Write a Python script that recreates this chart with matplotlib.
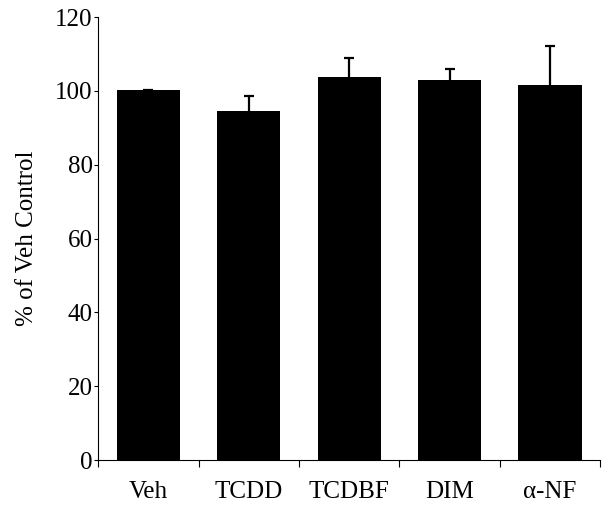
import matplotlib.pyplot as plt
import numpy as np

# ===== Data =====
groups = ["Veh", "TCDD", "TCDBF", "DIM", "\u03b1-NF"]
pct_control = [100.3, 94.6, 103.7, 102.9, 101.5]
sem = [0.0, 4.0, 5.2, 3.0, 10.6]
y_ticks = [0, 20, 40, 60, 80, 100, 120]

# ===== Style =====
plt.rcParams['font.family'] = ['Liberation Serif', 'DejaVu Serif']

fig = plt.figure(figsize=(6.02, 5.05), dpi=100)
ax = fig.add_axes([0.163, 0.089, 0.834, 0.877])

x = np.arange(len(groups))
ax.bar(x, pct_control, width=0.63, color='black', zorder=2)
eb = ax.errorbar(x, pct_control, yerr=[np.zeros(len(sem)), sem], fmt='none',
                 ecolor='black', elinewidth=1.6, capsize=3.6, capthick=1.6, zorder=3)
# only upper half of the error bar is shown
eb[1][0].set_visible(False)

ax.set_xlim(-0.5, len(groups) - 0.5)
ax.set_ylim(0, 120)
ax.set_yticks(y_ticks)
ax.tick_params(axis='y', direction='out', length=3, width=0.8, pad=1, labelsize=18)

# ticks at category boundaries, labels centred under bars
ax.set_xticks(np.arange(len(groups) + 1) - 0.5)
ax.set_xticklabels([])
ax.tick_params(axis='x', which='major', direction='out', length=5, width=0.8)
ax.set_xticks(x, minor=True)
ax.tick_params(axis='x', which='minor', length=0, pad=15, labelsize=18)
ax.set_xticklabels(groups, minor=True)

ax.spines['top'].set_visible(False)
ax.spines['right'].set_visible(False)
for s in ['left', 'bottom']:
    ax.spines[s].set_linewidth(0.8)

ax.set_ylabel("% of Veh Control", fontsize=18, labelpad=12)

fig.savefig("out.png", dpi=100)
